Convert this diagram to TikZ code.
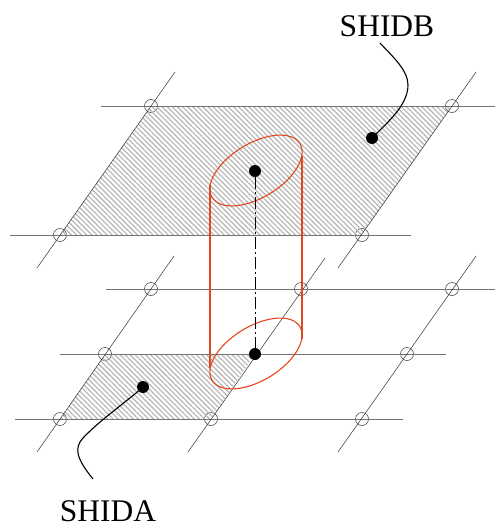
\documentclass[tikz,border=0pt]{standalone}
\usepackage{fontspec}
\setmainfont{Liberation Serif}
\usetikzlibrary{patterns.meta}
\definecolor{gridline}{RGB}{50,50,50}
\definecolor{rowline}{RGB}{115,115,115}
\definecolor{hatchline}{RGB}{185,185,185}
\definecolor{cylline}{RGB}{226,72,30}
\begin{document}
\begin{tikzpicture}[
		x=1pt, y=-1pt,
		gridpt/.style={circle, draw=gridline, line width=0.5pt, minimum size=13pt, inner sep=0pt},
		tagtext/.style={font=\fontsize{31.5}{33}\selectfont, inner sep=0pt},
		blackdot/.style={circle, fill=black, minimum size=12pt, inner sep=0pt},
		hatch/.style={pattern={Lines[angle=-45, distance=3.6pt, line width=1.3pt]}, pattern color=hatchline},
		rowln/.style={draw=rowline, line width=1pt},
		diagln/.style={draw=gridline, line width=0.5pt},
		cylln/.style={draw=cylline, line width=1.1pt},
		axisln/.style={draw=black, line width=1pt, dash pattern=on 12pt off 3pt on 2pt off 3pt},
		leader/.style={draw=black, line width=1.1pt}
	]
		\useasboundingbox (0,0) rectangle (495,525);
		% upper plane
		\node[gridpt] (U1) at (151,106) {};
		\node[gridpt] (U2) at (452,106) {};
		\node[gridpt] (U3) at (60,235) {};
		\node[gridpt] (U4) at (362,235) {};
		% lower grid
		\node[gridpt] (L1) at (151,289) {};
		\node[gridpt] (L2) at (301,289) {};
		\node[gridpt] (L3) at (452,289) {};
		\node[gridpt] (M1) at (105,354) {};
		\coordinate (M2) at (255,354);
		\node[gridpt] (M3) at (407,354) {};
		\node[gridpt] (B1) at (60,419) {};
		\node[gridpt] (B2) at (211,419) {};
		\node[gridpt] (B3) at (362,419) {};
		% hatched faces
		\fill[hatch] (U1.center) -- (U2.center) -- (U4.center) -- (U3.center) -- cycle;
		\fill[hatch] (M1.center) -- (M2) -- (B2.center) -- (B1.center) -- cycle;
		% free ends of the grid lines
		\coordinate (r1a) at (101,106); \coordinate (r1b) at (495,106);
		\coordinate (r2a) at (10,235);  \coordinate (r2b) at (411,235);
		\coordinate (r3a) at (106,289); \coordinate (r3b) at (495,289);
		\coordinate (r4a) at (60,354);  \coordinate (r4b) at (446,354);
		\coordinate (r5a) at (15,419);  \coordinate (r5b) at (403,419);
		\coordinate (d1a) at (37,268);  \coordinate (d1b) at (175,72);
		\coordinate (d2a) at (338,268); \coordinate (d2b) at (476,72);
		\coordinate (d3a) at (37,452);  \coordinate (d3b) at (174,256);
		\coordinate (d4a) at (188,452); \coordinate (d4b) at (325,258);
		\coordinate (d5a) at (338,452); \coordinate (d5b) at (476,256);
		% grid lines
		\draw[rowln] (r1a) -- (r1b);
		\draw[rowln] (r2a) -- (r2b);
		\draw[rowln] (r3a) -- (r3b);
		\draw[rowln] (r4a) -- (r4b);
		\draw[rowln] (r5a) -- (r5b);
		\draw[diagln] (d1a) -- (d1b);
		\draw[diagln] (d2a) -- (d2b);
		\draw[diagln] (d3a) -- (d3b);
		\draw[diagln] (d4a) -- (d4b);
		\draw[diagln] (d5a) -- (d5b);
		% cylinder
		\draw[cylln, shift={(256,170.5)}, rotate=31.5] (0,0) ellipse [x radius=51.5pt, y radius=27pt];
		\draw[cylln, shift={(256,353.5)}, rotate=31.5] (0,0) ellipse [x radius=51.5pt, y radius=27pt];
		\coordinate (sideLa) at (210,185); \coordinate (sideLb) at (210,368);
		\coordinate (sideRa) at (302,156); \coordinate (sideRb) at (302,339);
		\draw[cylln] (sideLa) -- (sideLb);
		\draw[cylln] (sideRa) -- (sideRb);
		% dots
		\node[blackdot] (dotB) at (372,138) {};
		\node[blackdot] (dotT) at (255,171) {};
		\node[blackdot] (dotM) at (255,354) {};
		\node[blackdot] (dotA) at (143,387) {};
		\draw[axisln] (dotT) -- (dotM);
		% labels
		\node[tagtext] (tagB) at (387,26) {SHIDB};
		\node[tagtext] (tagA) at (108,511) {SHIDA};
		\coordinate (endB) at (380,43);
		\coordinate (endA) at (93,479);
		\draw[leader] (endB) .. controls (392,56) and (408,70) .. (408,85)
			.. controls (408,105) and (388,122) .. (dotB.center);
		\draw[leader] (dotA.center) .. controls (125,403) and (100,420) .. (83,438)
			.. controls (74,448) and (76,458) .. (endA);
	\end{tikzpicture}
\end{document}
